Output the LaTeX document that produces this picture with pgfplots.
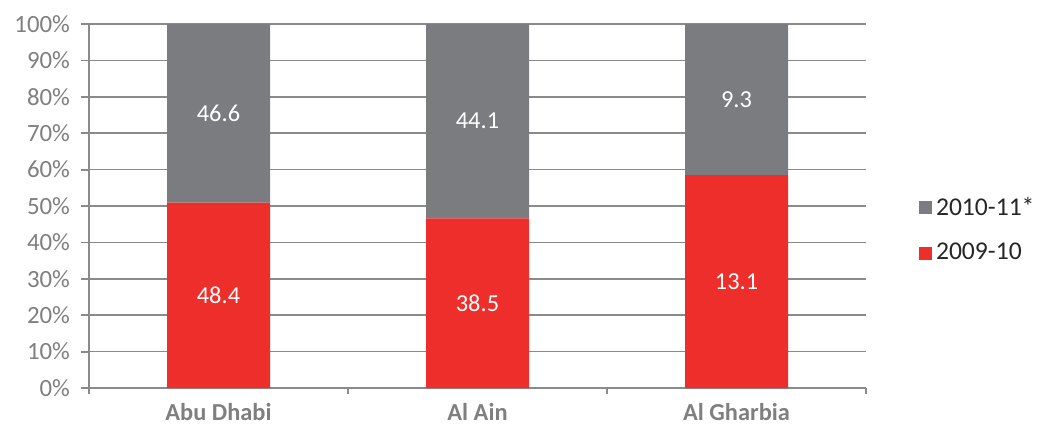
\documentclass[border=0pt]{standalone}
\usepackage{pgfplots}
\pgfplotsset{compat=1.18}
\usepackage{pgfplotstable}
\usepackage{fontspec}
\setmainfont{Carlito}

\definecolor{barred}{HTML}{EE2E2B}
\definecolor{bargray}{HTML}{7B7C80}
\definecolor{gridgray}{HTML}{8A8A8A}
\definecolor{ticktext}{HTML}{7F7F7F}
\definecolor{legtext}{HTML}{262626}

% shares of the total (%), with the figure printed on each segment
\pgfplotstableread{
x  pct     lbl
0  50.947  48.4
1  46.610  38.5
2  58.482  13.1
}\lowerdata
\pgfplotstableread{
x  pct     lbl
0  49.053  46.6
1  53.390  44.1
2  41.518  9.3
}\upperdata

\begin{document}
\begin{tikzpicture}
\useasboundingbox (0,0) rectangle (518.5pt,215pt);
\begin{axis}[
    at={(44.5pt,21pt)}, anchor=south west,
    scale only axis,
    width=388.5pt, height=182pt,
    ybar stacked,
    bar width=51.5pt,
    xmin=-0.5, xmax=2.5,
    ymin=0, ymax=100,
    xtick={0,1,2},
    xticklabels={Abu Dhabi,Al Ain,Al Gharbia},
    minor xtick={-0.5,0.5,1.5,2.5},
    ytick={0,10,...,100},
    yticklabel={\pgfmathprintnumber{\tick}\%},
    /pgf/number format/assume math mode=true,
    axis x line*=bottom, axis y line*=left,
    axis line style={gridgray, line width=0.9pt},
    tick align=outside,
    major x tick style={draw=none},
    minor x tick style={gridgray, line width=0.9pt},
    minor tick length=3pt,
    major y tick style={gridgray, line width=0.9pt},
    major tick length=4pt,
    ymajorgrids,
    major grid style={gridgray, line width=0.75pt},
    yticklabel style={font=\fontsize{12.4}{14}\selectfont, text=ticktext, xshift=-2pt},
    xticklabel style={font=\fontsize{12.2}{14}\selectfont\bfseries, text=ticktext,
        yshift=-2.5pt, inner sep=1pt},
    point meta=explicit symbolic,
    nodes near coords,
    % with anchor=center the stacked labels land in the middle of each segment
    every node near coord/.append style={
        anchor=center, text=white,
        font=\fontsize{12.2}{14}\selectfont},
    legend style={
        draw=none, fill=none,
        at={(1.060,0.434)}, anchor=west,
        font=\fontsize{12.8}{14}\selectfont,
        text=legtext,
        row sep=8.5pt,
        legend cell align=left,
    },
    legend image code/.code={
        \draw[#1, draw=none] (0pt,-3.25pt) rectangle (6.5pt,3.25pt);
    },
    reverse legend,
]
\addplot[fill=barred, draw=none] table[x=x, y=pct, meta=lbl] {\lowerdata};
\addplot[fill=bargray, draw=none] table[x=x, y=pct, meta=lbl] {\upperdata};
\legend{2009-10,2010-11*}
\end{axis}
\end{tikzpicture}
\end{document}
